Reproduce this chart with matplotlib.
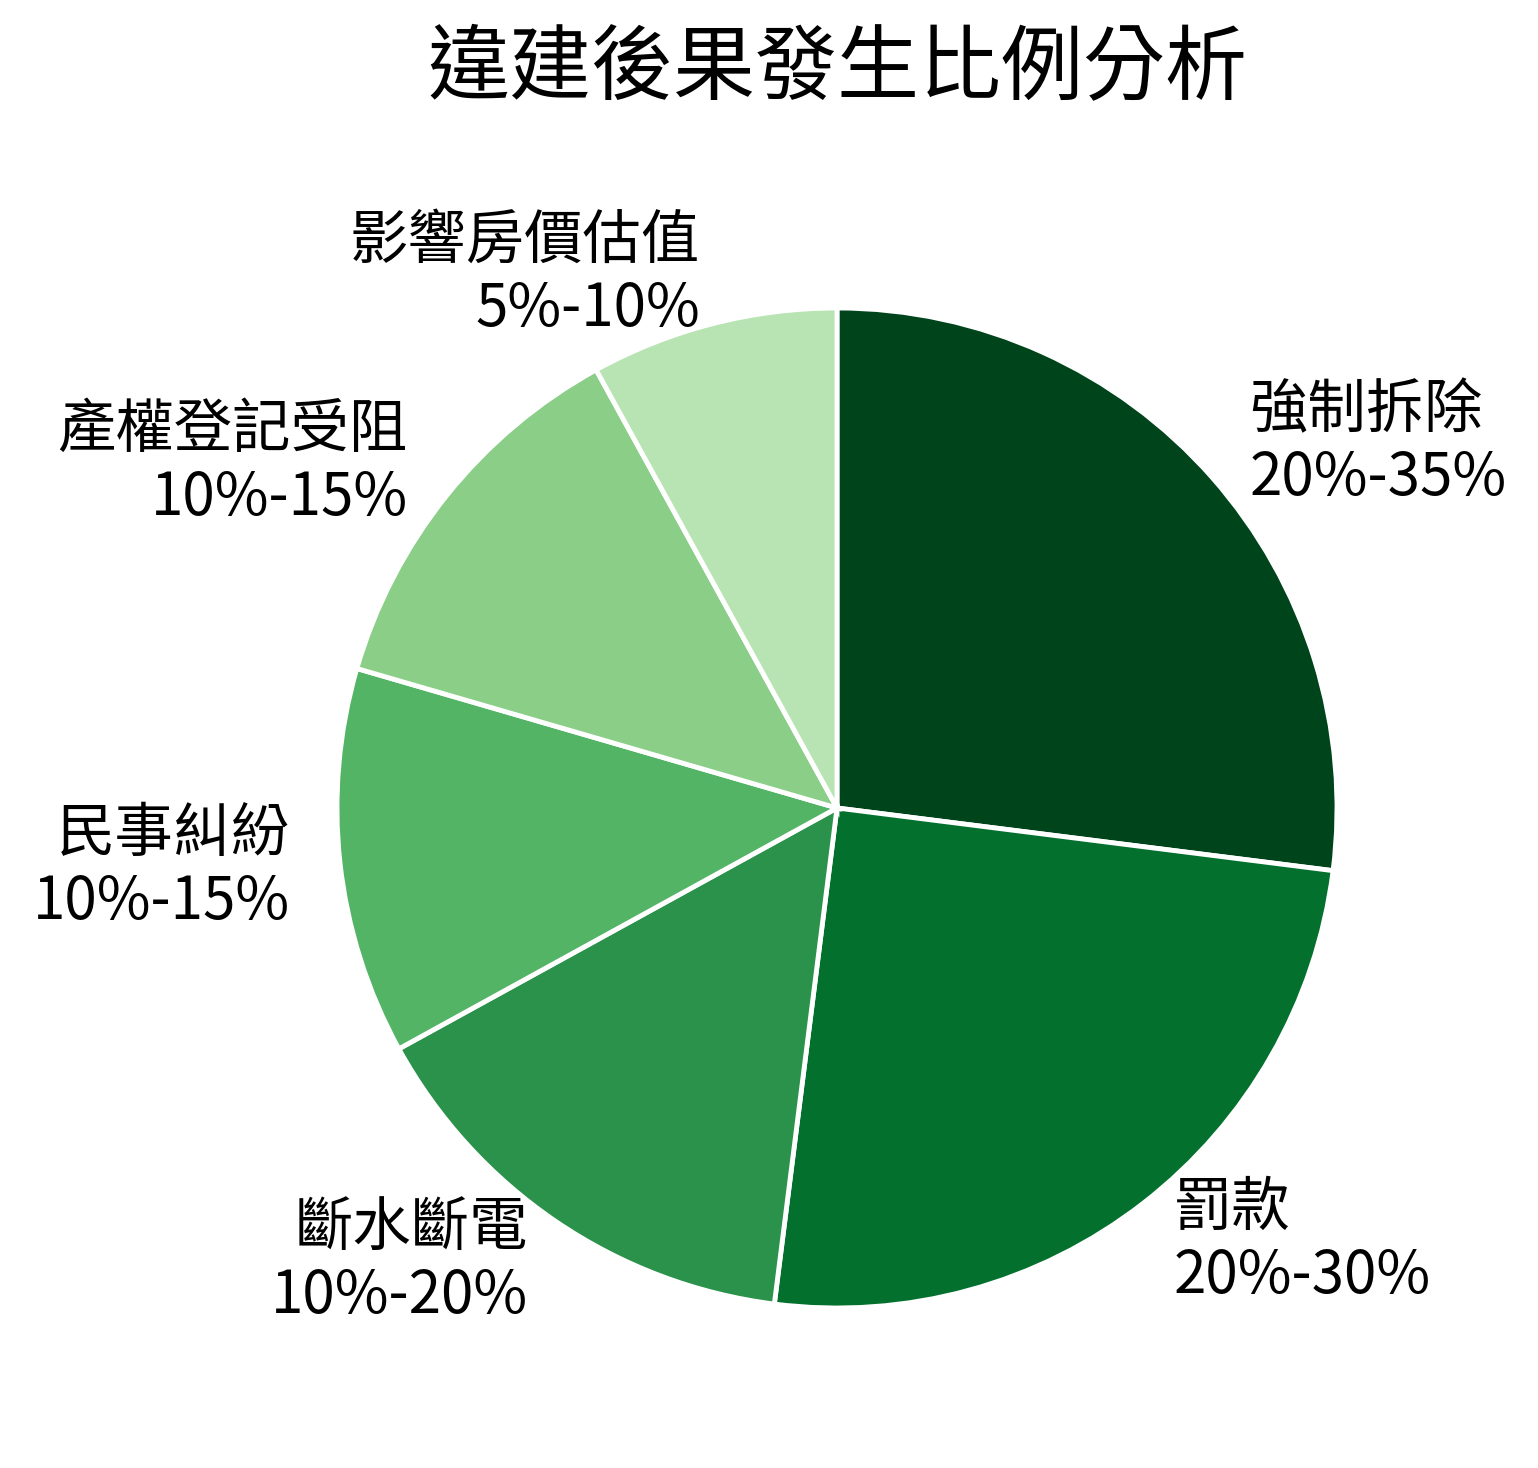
import matplotlib
matplotlib.use("Agg")
import matplotlib.pyplot as plt
import numpy as np

plt.rcParams['font.family'] = ['Noto Sans CJK TC', 'DejaVu Sans']

# 資料
categories = ['強制拆除', '罰款', '斷水斷電', '民事糾紛', '產權登記受阻', '影響房價估值']
ranges = ['20%-35%', '20%-30%', '10%-20%', '10%-15%', '10%-15%', '5%-10%']
values = [27, 25, 15, 12.5, 12.5, 8]

colors = plt.cm.Greens(np.linspace(1.0, 0.3, len(values)))
labels = [f'{c}\n{r}' for c, r in zip(categories, ranges)]

fig = plt.figure(figsize=(15.38, 14.68), dpi=100)
ax = fig.add_axes([0.0, 0.0, 1.0, 1.0])

wedges, texts = ax.pie(values, labels=labels, colors=colors, startangle=90,
                       counterclock=False, labeldistance=1.1, radius=1.0,
                       wedgeprops={'edgecolor': 'white', 'linewidth': 3.5},
                       textprops={'fontsize': 42})
for t in texts:
    t.set_linespacing(1.15)

# 圓心約在 (837, 808) px，半徑約 500 px
ax.set_xlim(-837 / 500, (1538 - 837) / 500)
ax.set_ylim(-(1468 - 808) / 500, 808 / 500)
ax.set_aspect('equal')
ax.axis('off')

fig.text(837 / 1538, 1 - 70 / 1468, '違建後果發生比例分析', fontsize=59,
         ha='center', va='center')

plt.savefig('out.png', dpi=100)
